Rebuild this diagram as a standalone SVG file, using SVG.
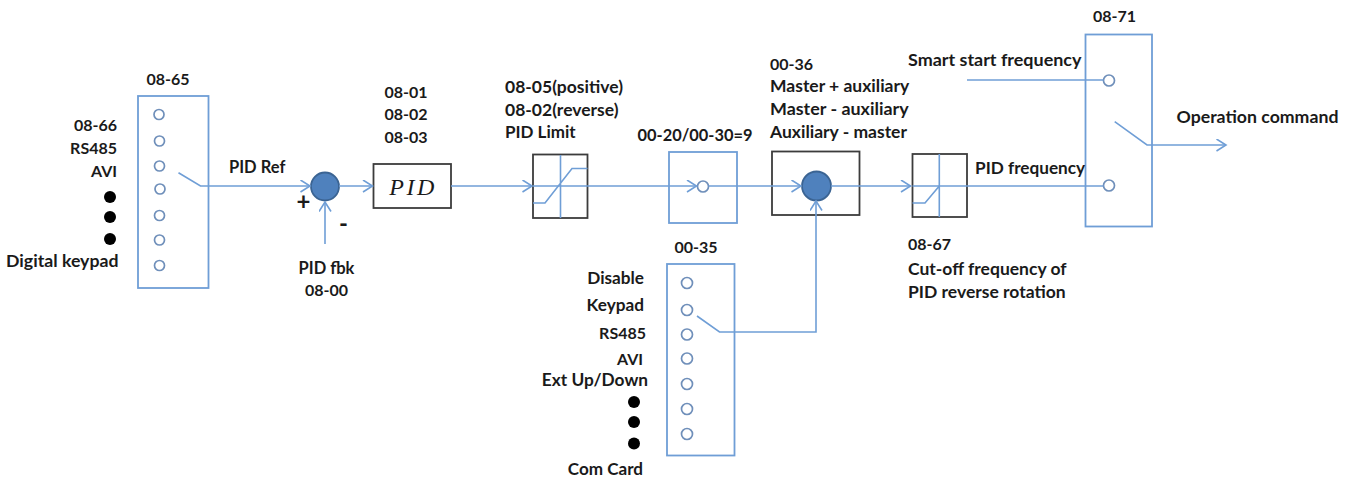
<svg xmlns="http://www.w3.org/2000/svg" width="1358" height="480" viewBox="0 0 1358 480">
<defs>
<style>
text{font-family:"Lato","Liberation Sans",sans-serif;font-weight:700;font-size:16px;fill:#1a1a1a}
.w{font-size:17.5px}
.m{text-anchor:middle}.e{text-anchor:end}
.bb{fill:none;stroke:#6f9ed6;stroke-width:1.8}
.kb{fill:#fff;stroke:#3c3c3c;stroke-width:1.8}
.l{fill:none;stroke:#6f9ed6;stroke-width:1.6}
.t{fill:#fff;stroke:#6f8fba;stroke-width:1.7}
.s{fill:#4f81bd;stroke:#3b6493;stroke-width:1.8}
.d{fill:#000}
</style>
<marker id="a" markerUnits="userSpaceOnUse" markerWidth="12" markerHeight="14" refX="10.5" refY="6.5" orient="auto" viewBox="0 0 12 14"><path d="M1 0.5L10.5 6.5L1 12.5" fill="none" stroke="#6f9ed6" stroke-width="1.6"/></marker>
</defs>
<rect width="1358" height="480" fill="#fff"/>
<g id="n0865">
<rect class="bb" x="138" y="96" width="70.500" height="192"/>
<circle class="t" cx="159" cy="114.500" r="5"/><circle class="t" cx="159.500" cy="141" r="5"/><circle class="t" cx="159.500" cy="166" r="5"/><circle class="t" cx="160" cy="189" r="5"/><circle class="t" cx="159.500" cy="215.500" r="5"/><circle class="t" cx="159.500" cy="240" r="5"/><circle class="t" cx="159.500" cy="265.500" r="5"/>
<text class="m" x="168" y="85">08-65</text>
<text class="e" x="117" y="131">08-66</text><text class="e" x="117" y="154">RS485</text><text class="e" x="117" y="177">AVI</text>
<circle class="d" cx="110" cy="197" r="6"/><circle class="d" cx="110" cy="217" r="6"/><circle class="d" cx="110" cy="239" r="6"/>
<text class="e" x="118.500" y="267" style="font-size:17.700px">Digital keypad</text>
<text x="229" y="173" style="font-size:16.500px">PID Ref</text>
</g>
<g id="nSum1"><circle class="s" cx="325" cy="186.500" r="14"/><text x="296.500" y="210" style="font-size:24px">+</text><text x="339" y="232" style="font-size:24px">-</text>
<text class="m" x="326.500" y="274" style="font-size:16.500px">PID fbk</text><text class="m" x="326.500" y="296">08-00</text></g>
<g id="nPID"><rect class="kb" x="373.500" y="164" width="77.500" height="44"/>
<text class="m" x="413" y="195" style="font-family:'Liberation Serif',serif;font-style:italic;font-weight:400;font-size:24px;letter-spacing:2.500px">PID</text>
<text class="m" x="406" y="98">08-01</text><text class="m" x="406" y="120">08-02</text><text class="m" x="406" y="143">08-03</text></g>
<g id="nLimit"><rect class="kb" x="533" y="154.500" width="54.500" height="63.500"/>
<path class="l" d="M560.500 155V218M533 203H545L572 168.500H587.500"/>
<text class="w" x="505" y="93">08-05(positive)</text><text class="w" x="505" y="116">08-02(reverse)</text><text x="505" y="138" style="font-size:17px">PID Limit</text></g>
<g id="n0020"><rect class="bb" x="669" y="152" width="68" height="71"/><circle class="t" cx="703" cy="186.500" r="5.500"/>
<text x="637.500" y="141" style="font-size:16.400px">00-20/00-30=9</text></g>
<g id="n0036"><rect class="kb" x="772" y="151.500" width="87.500" height="63.500"/><circle class="s" cx="816.500" cy="186" r="14.500"/>
<text x="770" y="70">00-36</text><text class="w" x="770" y="92">Master + auxiliary</text><text x="770" y="115" style="font-size:17.900px">Master - auxiliary</text><text class="w" x="770" y="138">Auxiliary - master</text></g>
<g id="n0867"><rect class="kb" x="912.500" y="154" width="54.500" height="63"/>
<path class="l" d="M939.300 154V217M912.500 203H925L939.300 186"/>
<text x="908" y="250">08-67</text><text class="w" x="908" y="275">Cut-off frequency of</text><text class="w" x="908" y="298">PID reverse rotation</text></g>
<g id="n0871"><rect class="bb" x="1085.500" y="34.500" width="66.500" height="192"/>
<circle class="t" cx="1109" cy="80.500" r="5.500"/><circle class="t" cx="1109" cy="185.500" r="5.500"/>
<text class="m" x="1114.500" y="22">08-71</text><text x="908" y="66" style="font-size:17.950px">Smart start frequency</text><text x="975" y="174" style="font-size:17.200px">PID frequency</text><text x="1176.500" y="123" style="font-size:17.700px">Operation command</text></g>
<g id="n0035"><rect class="bb" x="667" y="264" width="67.500" height="191.500"/>
<circle class="t" cx="687" cy="283" r="5.500"/><circle class="t" cx="687" cy="310" r="5.500"/><circle class="t" cx="687" cy="334.500" r="5.500"/><circle class="t" cx="687" cy="358.500" r="5.500"/><circle class="t" cx="687" cy="384" r="5.500"/><circle class="t" cx="687" cy="409" r="5.500"/><circle class="t" cx="687" cy="434" r="5.500"/>
<text class="m" x="696" y="253">00-35</text>
<text class="e" x="644" y="284" style="font-size:17.200px">Disable</text><text class="e" x="644" y="311" style="font-size:17.200px">Keypad</text><text class="e" x="646" y="339">RS485</text><text class="e" x="643" y="365">AVI</text><text class="e" x="648" y="386" style="font-size:17.300px">Ext Up/Down</text>
<circle class="d" cx="634" cy="402" r="6"/><circle class="d" cx="634" cy="422" r="6"/><circle class="d" cx="634" cy="443.500" r="6"/>
<text class="e" x="643" y="475" style="font-size:17.100px">Com Card</text></g>
<g id="connectors">
<path class="l" d="M178.500 172.700L200.500 186H310" marker-end="url(#a)"/>
<path class="l" d="M325 244V202" marker-end="url(#a)"/>
<path class="l" d="M339 186H372.500" marker-end="url(#a)"/>
<path class="l" d="M451 186H532" marker-end="url(#a)"/>
<path class="l" d="M533 186H696.500" marker-end="url(#a)"/>
<path class="l" d="M708.500 186H801" marker-end="url(#a)"/>
<path class="l" d="M831 186H910.500" marker-end="url(#a)"/>
<path class="l" d="M912.500 186H1103.500"/>
<path class="l" d="M967 80H1103.500"/>
<path class="l" d="M1114.700 121.700L1147 145H1226" marker-end="url(#a)"/>
<path class="l" d="M697 316L719.500 332H816V201" marker-end="url(#a)"/>
</g>
</svg>
